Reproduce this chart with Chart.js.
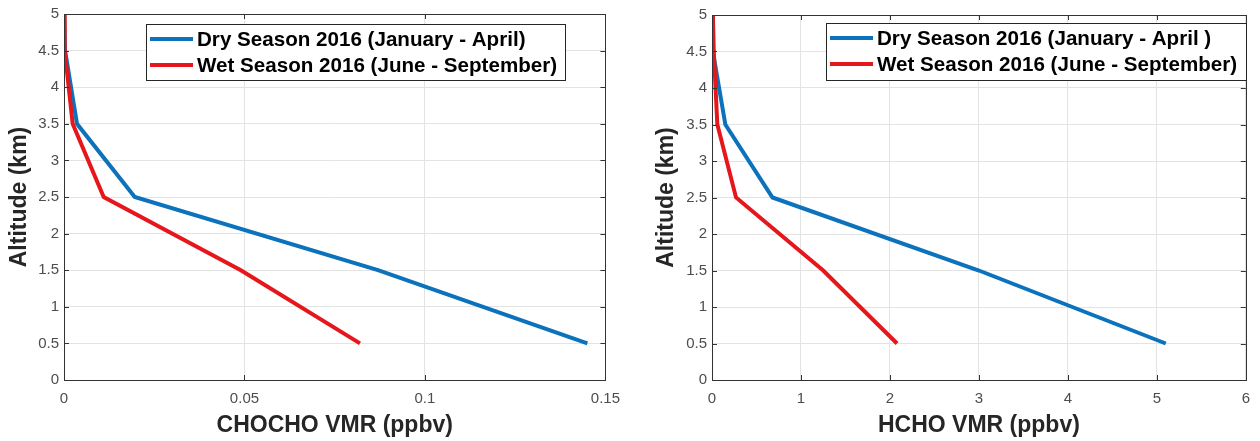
<!DOCTYPE html>
<html>
<head>
<meta charset="utf-8">
<script src="https://cdn.jsdelivr.net/npm/chart.js@4/dist/chart.umd.min.js"></script>
<style>
  html, body { margin: 0; padding: 0; background: #fff; }
  #wrap { position: relative; width: 1260px; height: 441px; }
  canvas { position: absolute; top: 0; }
  #left-canvas { left: 0; }
  #right-canvas { left: 630px; }
</style>
</head>
<body>
<div id="wrap">
  <canvas id="left-canvas" width="630" height="441"></canvas>
  <canvas id="right-canvas" width="630" height="441"></canvas>
</div>
<script>
// altitude levels (km), same for every profile
let altitudes = [5, 4.5, 3.5, 2.5, 1.5, 0.5];
let altitudeTicks = [0, 0.5, 1, 1.5, 2, 2.5, 3, 3.5, 4, 4.5, 5];

// CHOCHO VMR (ppbv)
let chochoDry = [0, 0.0003, 0.0036, 0.0196, 0.087, 0.145];
let chochoWet = [0, 0.0002, 0.0024, 0.011, 0.049, 0.082];
let chochoTicks = [0, 0.05, 0.1, 0.15];

// HCHO VMR (ppbv)
let hchoDry = [0.01, 0.01, 0.15, 0.68, 3.0, 5.1];
let hchoWet = [0.01, 0.02, 0.06, 0.27, 1.25, 2.08];
let hchoTicks = [0, 1, 2, 3, 4, 5, 6];

let dryColor = "#0b72bb";
let wetColor = "#e5161c";
let axisColor = "#333333";
let tickColor = "#4d4d4d";

function toPoints(xs) {
  return xs.map(function (x, i) {
    return { x: x, y: altitudes[i] };
  });
}

function fmt(v) {
  return String(parseFloat(v.toFixed(4)));
}

// box round the plot area, MATLAB style ticks pointing inward, boxed legend
const matlabBox = {
  id: "matlabBox",
  afterDatasetsDraw(chart, args, opts) {
    const c = chart.ctx;
    const a = chart.chartArea;
    const xs = chart.scales.x;
    const ys = chart.scales.y;
    c.save();
    c.strokeStyle = axisColor;
    c.lineWidth = 1;
    c.strokeRect(Math.round(a.left) + 0.5, Math.round(a.top) + 0.5,
      Math.round(a.right - a.left), Math.round(a.bottom - a.top));
    c.beginPath();
    xs.ticks.forEach(function (t) {
      const px = Math.round(xs.getPixelForValue(t.value)) + 0.5;
      c.moveTo(px, a.bottom); c.lineTo(px, a.bottom - 5);
      c.moveTo(px, a.top); c.lineTo(px, a.top + 5);
    });
    ys.ticks.forEach(function (t) {
      const py = Math.round(ys.getPixelForValue(t.value)) + 0.5;
      c.moveTo(a.left, py); c.lineTo(a.left + 5, py);
      c.moveTo(a.right, py); c.lineTo(a.right - 5, py);
    });
    c.stroke();

    // legend
    const b = opts.box;
    c.fillStyle = "#fff";
    c.fillRect(b.x, b.y, b.w, b.h);
    c.strokeStyle = "#262626";
    c.strokeRect(b.x + 0.5, b.y + 0.5, b.w, b.h);
    c.font = "bold 20.6px 'Liberation Sans', Arial, sans-serif";
    c.textBaseline = "middle";
    c.textAlign = "left";
    const rows = [15, 41];
    [0, 1].forEach(function (i) {
      const ds = chart.data.datasets[i];
      const y = b.y + rows[i];
      c.strokeStyle = ds.borderColor;
      c.lineWidth = 4;
      c.beginPath();
      c.moveTo(b.x + 4, y);
      c.lineTo(b.x + 47, y);
      c.stroke();
      c.fillStyle = "#000";
      c.fillText(ds.label, b.x + 51, y + 1);
    });
    c.restore();
  },
};

function makeChart(canvas, cfg) {
  return new Chart(canvas, {
    type: "line",
    data: {
      datasets: [
        {
          label: cfg.dryLabel,
          data: toPoints(cfg.dry),
          borderColor: dryColor,
          borderWidth: 4,
          pointRadius: 0,
          tension: 0,
          order: 1,
        },
        {
          label: "Wet Season 2016 (June - September)",
          data: toPoints(cfg.wet),
          borderColor: wetColor,
          borderWidth: 4,
          pointRadius: 0,
          tension: 0,
          order: 0,
        },
      ],
    },
    options: {
      responsive: false,
      devicePixelRatio: 1,
      animation: false,
      layout: {
        padding: { top: cfg.padTop, right: cfg.padRight, left: 0, bottom: 0 },
      },
      plugins: {
        legend: { display: false },
        tooltip: { enabled: false },
        matlabBox: { box: cfg.box },
      },
      scales: {
        x: {
          type: "linear",
          min: cfg.ticks[0],
          max: cfg.ticks[cfg.ticks.length - 1],
          afterBuildTicks: function (s) {
            s.ticks = cfg.ticks.map(function (v) { return { value: v }; });
          },
          afterFit: function (s) { s.height = 61; },
          border: { display: false },
          grid: { color: "#e3e3e3", drawTicks: false },
          ticks: {
            color: tickColor,
            padding: 10,
            font: { size: 15, family: "'Liberation Sans', Arial, sans-serif" },
            callback: fmt,
          },
          title: {
            display: true,
            text: cfg.xTitle,
            color: "#262626",
            font: { size: 23, weight: "bold", family: "'Liberation Sans', Arial, sans-serif" },
            padding: { top: 0, bottom: 2 },
          },
        },
        y: {
          type: "linear",
          min: 0,
          max: 5,
          afterBuildTicks: function (s) {
            s.ticks = altitudeTicks.map(function (v) { return { value: v }; });
          },
          afterFit: function (s) { s.width = cfg.yWidth; },
          border: { display: false },
          grid: { color: "#e3e3e3", drawTicks: false },
          ticks: {
            color: tickColor,
            padding: 5,
            font: { size: 15, family: "'Liberation Sans', Arial, sans-serif" },
            callback: fmt,
          },
          title: {
            display: true,
            text: "Altitude (km)",
            color: "#262626",
            font: { size: 23, weight: "bold", family: "'Liberation Sans', Arial, sans-serif" },
            padding: { top: cfg.yTitlePad, bottom: 0 },
          },
        },
      },
    },
    plugins: [matlabBox],
  });
}

makeChart(document.querySelector("#left-canvas"), {
  dry: chochoDry,
  wet: chochoWet,
  ticks: chochoTicks,
  dryLabel: "Dry Season 2016 (January - April)",
  xTitle: "CHOCHO VMR (ppbv)",
  padTop: 13,
  padRight: 24,
  yWidth: 64,
  yTitlePad: 6,
  box: { x: 146, y: 24, w: 419, h: 56 },
});

makeChart(document.querySelector("#right-canvas"), {
  dry: hchoDry,
  wet: hchoWet,
  ticks: hchoTicks,
  dryLabel: "Dry Season 2016 (January - April )",
  xTitle: "HCHO VMR (ppbv)",
  padTop: 15,
  padRight: 13,
  yWidth: 82,
  yTitlePad: 23,
  box: { x: 196, y: 23, w: 420, h: 57 },
});
</script>
</body>
</html>
